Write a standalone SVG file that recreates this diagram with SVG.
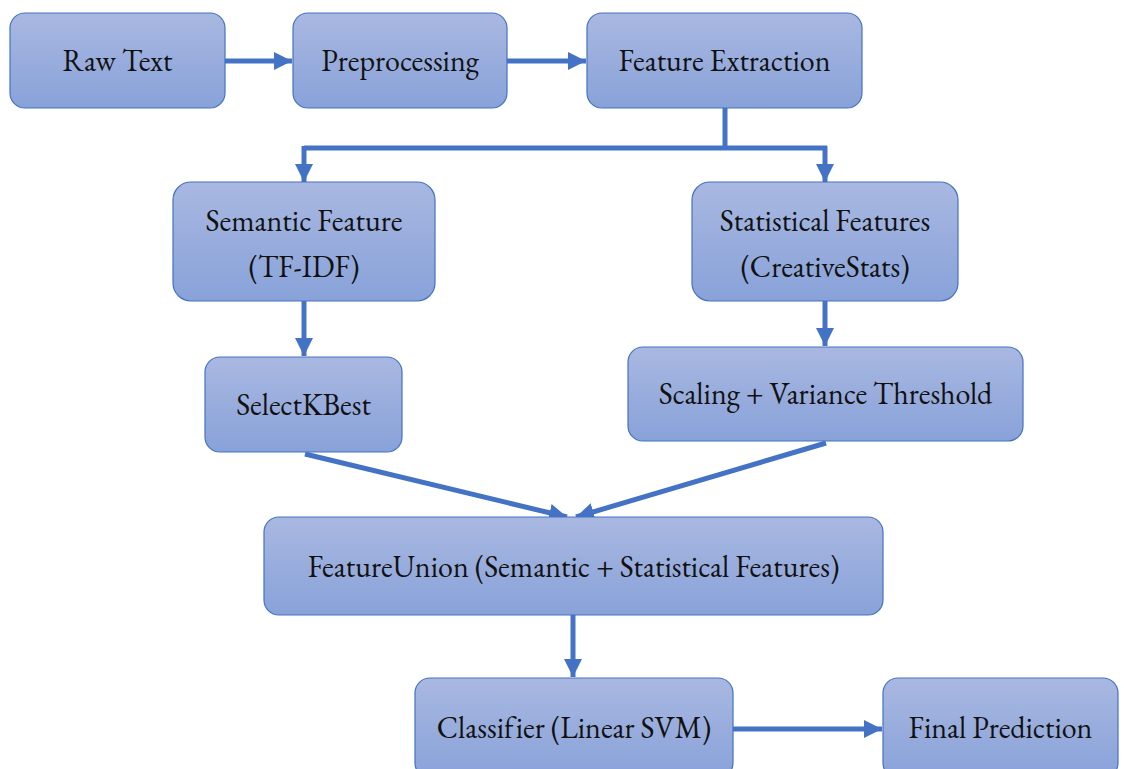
<svg xmlns="http://www.w3.org/2000/svg" width="1124" height="769" viewBox="0 0 1124 769">
<style>
.box{fill:url(#g);stroke:#4472C4;stroke-width:1.2}
.t{font-family:"EB Garamond","Liberation Serif",serif;font-size:30px;fill:#111;text-anchor:middle;dominant-baseline:central;font-variant-ligatures:none}
.c{stroke:#4472C4;stroke-width:5;fill:none;marker-end:url(#a)}
.l{stroke:#4472C4;stroke-width:5;fill:none}
</style>
<defs>
<linearGradient id="g" x1="0" y1="0" x2="0" y2="1">
<stop offset="0" stop-color="#A9B8E1"/>
<stop offset="1" stop-color="#88A2D9"/>
</linearGradient>
<marker id="a" markerUnits="userSpaceOnUse" markerWidth="20" markerHeight="18" refX="18" refY="9" orient="auto">
<path d="M0,0 L18,9 L0,18 Z" fill="#4472C4"/>
</marker>
</defs>
<g id="connectors">
<path class="c" d="M225,61 H292"/>
<path class="c" d="M507,61 H586"/>
<path class="l" d="M725,108 V148"/>
<path class="l" d="M304,148 H827"/>
<path class="c" d="M304,146 V182"/>
<path class="c" d="M825,146 V182"/>
<path class="c" d="M304,301 V356"/>
<path class="c" d="M825,301 V346"/>
<path class="c" d="M305,454 L567,517"/>
<path class="c" d="M826,443 L576,517"/>
<path class="c" d="M573,615 V677"/>
<path class="c" d="M733,729 H882"/>
</g>
<g id="raw-text"><rect class="box" x="10" y="13" width="215" height="95" rx="15"/><text class="t" x="117.5" y="60">Raw Text</text></g>
<g id="preprocessing"><rect class="box" x="293" y="13" width="214" height="95" rx="15"/><text class="t" x="400" y="60">Preprocessing</text></g>
<g id="feature-extraction"><rect class="box" x="587" y="13" width="275" height="95" rx="15"/><text class="t" x="724.5" y="60">Feature Extraction</text></g>
<g id="semantic-feature"><rect class="box" x="173" y="182" width="262" height="119" rx="18"/><text class="t" x="304" y="220">Semantic Feature</text><text class="t" x="304" y="266">(TF-IDF)</text></g>
<g id="statistical-features"><rect class="box" x="692" y="182" width="266" height="119" rx="18"/><text class="t" x="825" y="220">Statistical Features</text><text class="t" x="825" y="266">(CreativeStats)</text></g>
<g id="selectkbest"><rect class="box" x="205" y="357" width="197" height="95" rx="15"/><text class="t" x="303.5" y="404">SelectKBest</text></g>
<g id="scaling"><rect class="box" x="628" y="347" width="395" height="94" rx="15"/><text class="t" x="825.5" y="393">Scaling + Variance Threshold</text></g>
<g id="feature-union"><rect class="box" x="264" y="517" width="619" height="98" rx="15"/><text class="t" x="573.5" y="566">FeatureUnion (Semantic + Statistical Features)</text></g>
<g id="classifier"><rect class="box" x="415" y="678" width="318" height="100" rx="15"/><text class="t" x="574" y="727">Classifier (Linear SVM)</text></g>
<g id="final-prediction"><rect class="box" x="883" y="678" width="235" height="100" rx="15"/><text class="t" x="1000.5" y="727">Final Prediction</text></g>
</svg>
